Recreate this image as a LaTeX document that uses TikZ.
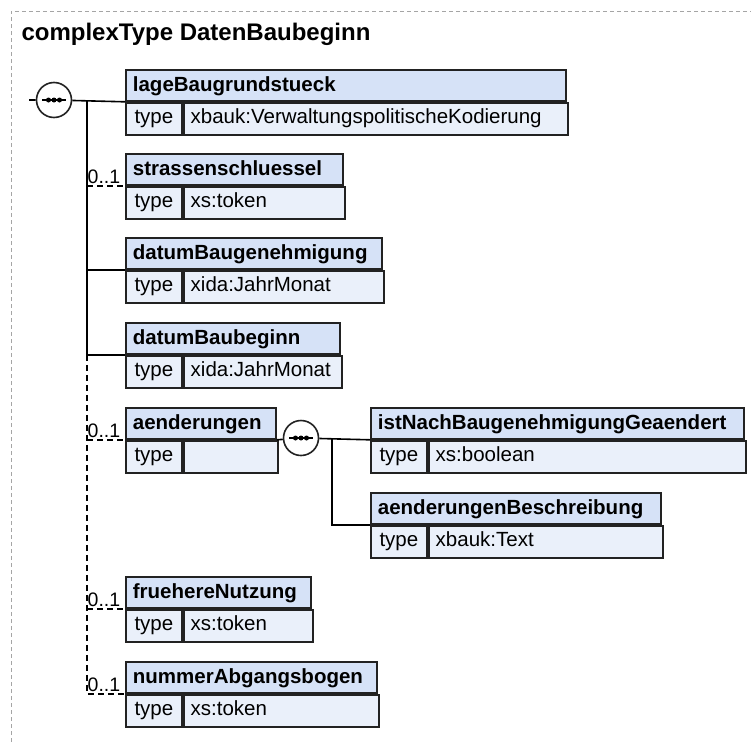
\documentclass[tikz,border=0pt]{standalone}
\usepackage{fontspec}
\setmainfont{Liberation Sans}
\definecolor{hdr}{RGB}{214,226,247}
\definecolor{row}{RGB}{234,240,250}
\definecolor{bord}{RGB}{34,34,34}
\definecolor{frm}{RGB}{165,165,165}

\begin{document}
\begin{tikzpicture}[x=1pt, y=-1pt,
  every node/.style={font=\fontsize{20.5}{24}\selectfont},
  head/.style={draw=bord, fill=hdr, line width=1.8pt, anchor=north west, inner xsep=7pt, inner ysep=0pt,
    minimum height=31pt, text height=14pt, text depth=2pt, font=\fontsize{20.5}{24}\selectfont\bfseries},
  cell/.style={draw=bord, fill=row, line width=1.8pt, anchor=north west, inner xsep=7pt, inner ysep=0pt,
    minimum height=32pt, text height=13.5pt, text depth=3.5pt},
  seq/.style={circle, draw=bord, fill=white, line width=1.6pt, minimum size=35pt, inner sep=0pt,
    path picture={\draw[black, line width=1.4pt] ([xshift=-12pt]path picture bounding box.center) -- ([xshift=12pt]path picture bounding box.center);
      \foreach \d in {-5.5,0,5.5} \fill[black] ([xshift=\d pt]path picture bounding box.center) circle (2.5pt);}},
  conn/.style={line width=1.6pt},
  opt/.style={dash pattern=on 6pt off 4pt},
  mult/.style={anchor=south east, inner sep=1pt, xshift=-3pt, font=\fontsize{19.5}{22}\selectfont}]
\useasboundingbox (0,0) rectangle (751,742);
\draw[frm, line width=1pt, dash pattern=on 4pt off 3pt] (11,742) -- (11,11) -- (751,11);
\node[anchor=base west, font=\fontsize{24}{28}\selectfont\bfseries] (title) at (18,40) {complexType DatenBaubeginn};

% element boxes
\foreach \id/\x/\yy/\ww/\nm/\tp in {
  lage/125/69/440/lageBaugrundstueck/xbauk:VerwaltungspolitischeKodierung,
  strass/125/153/217/strassenschluessel/xs:token,
  datG/125/237/256/datumBaugenehmigung/xida:JahrMonat,
  datB/125/322/214/datumBaubeginn/xida:JahrMonat,
  aend/125/407/150/aenderungen/{},
  frueh/125/576/185/fruehereNutzung/xs:token,
  numm/125/661/251/nummerAbgangsbogen/xs:token,
  istN/370/407/373/istNachBaugenehmigungGeaendert/xs:boolean,
  aenB/370/492/290/aenderungenBeschreibung/xbauk:Text}{
  \node[head] (\id) at (\x,\yy) {\makebox[\dimexpr\ww pt-14pt\relax][l]{\nm}};
  \node[cell, minimum width=56pt] (\id-k) at (\id.south west) {type};
  \node[cell] (\id-v) at (\id-k.north east) {\makebox[\dimexpr\ww pt-70pt\relax][l]{\tp}};
}

% sequence of DatenBaubeginn
\coordinate (in) at (29,100);
\coordinate (tr) at (87,100);
\node[seq] (s1) at (54,100) {};
\draw[conn] (in) -- (s1) (s1) -- (lage.south west);
\draw[conn] (tr) |- (datG.south west);
\draw[conn] (tr) |- (datB.south west);
\draw[conn, opt] (tr |- strass.south west) -- (strass.south west) node[mult] (strass-m) {0..1};
\draw[conn, opt] (tr |- datB.south west) |- (numm.south west) node[mult] (numm-m) {0..1};
\draw[conn, opt] (tr |- aend.south west) -- (aend.south west) node[mult] (aend-m) {0..1};
\draw[conn, opt] (tr |- frueh.south west) -- (frueh.south west) node[mult] (frueh-m) {0..1};

% sequence of aenderungen
\coordinate (tr2) at (332,438);
\node[seq] (s2) at (301,438) {};
\draw[conn] (aend.south east) -- (s2) (s2) -- (istN.south west);
\draw[conn] (tr2) |- (aenB.south west);
\end{tikzpicture}
\end{document}
